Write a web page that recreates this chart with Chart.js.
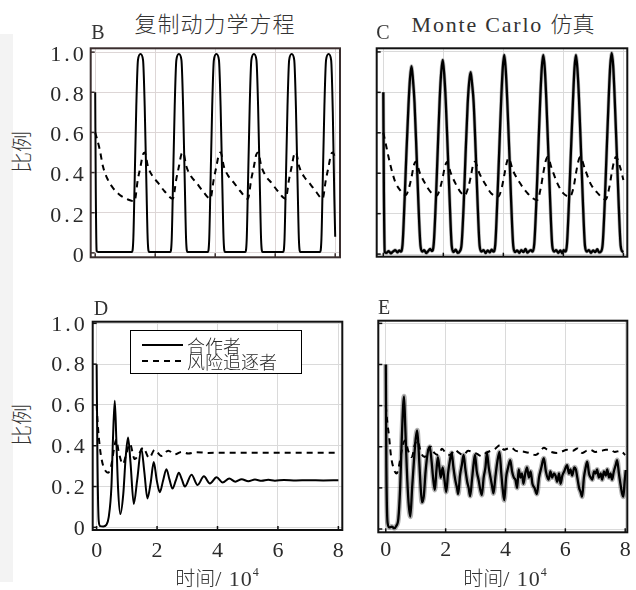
<!DOCTYPE html>
<html><head><meta charset="utf-8">
<script src="https://cdn.jsdelivr.net/npm/chart.js@4.4.0/dist/chart.umd.min.js"></script>
<style>
html,body{margin:0;padding:0;background:#fff;}
body{width:636px;height:590px;position:relative;overflow:hidden;}
canvas{position:absolute;}
.c{position:absolute;white-space:nowrap;line-height:1;color:#333;transform:translate(-50%,-50%);}
.cjk{font-family:"Noto Sans CJK SC",sans-serif;font-weight:300;}
.ser{font-family:"Liberation Serif",serif;}
#strip{position:absolute;left:0;top:34px;width:13px;height:548px;background:#f3f3f3;}
#legend{position:absolute;left:130px;top:330px;width:170px;height:42px;border:1px solid #000;background:#fff;}
#legend span{position:absolute;left:56px;font-size:18px;line-height:1;color:#2a2a2a;transform:translateY(-50%);font-family:"Noto Sans CJK SC",sans-serif;font-weight:300;}
</style></head><body>
<div id="strip"></div>
<canvas id="cB"></canvas><canvas id="cC"></canvas><canvas id="cD"></canvas><canvas id="cE"></canvas>
<div class="c cjk" style="left:215px;top:22px;font-size:22px;letter-spacing:1px;">复制动力学方程</div>
<div class="c ser" style="left:503px;top:23px;font-size:22px;letter-spacing:1.8px;">Monte Carlo <span class="cjk" style="letter-spacing:0">仿真</span></div>
<div class="c ser" style="left:98px;top:32px;font-size:20px;">B</div>
<div class="c ser" style="left:383px;top:32px;font-size:20px;">C</div>
<div class="c ser" style="left:101px;top:308px;font-size:20px;">D</div>
<div class="c ser" style="left:384px;top:307px;font-size:20px;">E</div>
<div class="c cjk" style="left:20px;top:152px;font-size:21px;transform:translate(-50%,-50%) rotate(-90deg);">比例</div>
<div class="c cjk" style="left:20px;top:425px;font-size:21px;transform:translate(-50%,-50%) rotate(-90deg);">比例</div>
<div class="c" style="left:217px;top:578px;"><span class="cjk" style="font-size:20px;">时间</span><span class="ser" style="font-size:22px;letter-spacing:1px;">/ 10</span><span class="ser" style="font-size:12px;vertical-align:10px;">4</span></div>
<div class="c" style="left:505px;top:578px;"><span class="cjk" style="font-size:20px;">时间</span><span class="ser" style="font-size:22px;letter-spacing:1px;">/ 10</span><span class="ser" style="font-size:12px;vertical-align:10px;">4</span></div>
<div id="legend">
<svg width="170" height="42" style="position:absolute;left:0;top:0">
<line x1="11" y1="14" x2="52" y2="14" stroke="#000" stroke-width="2"/>
<line x1="11" y1="30" x2="52" y2="30" stroke="#000" stroke-width="2" stroke-dasharray="6,5"/>
</svg>
<span style="top:14px;">合作者</span>
<span style="top:30px;">风险追逐者</span>
</div>
<script>
// ---------- data (x in units of 10^4) ----------
const xTicks = [0, 2, 4, 6, 8];
const xTickLabels = ['0', '2', '4', '6', '8'];
const yTicks = [0, 0.2, 0.4, 0.6, 0.8, 1.0];
const yTickLabels = ['0', '0.2', '0.4', '0.6', '0.8', '1.0'];

// B: replicator dynamics, cooperators
const bCoopX = [0,0.02,0.05,0.1,
1.22,1.27,1.31,1.37,1.425,1.51,1.595,1.65,1.71,1.75,1.80,
2.50,2.55,2.59,2.65,2.705,2.79,2.875,2.93,2.99,3.03,3.08,
3.75,3.80,3.84,3.90,3.955,4.04,4.125,4.18,4.24,4.28,4.33,
5.00,5.05,5.09,5.15,5.205,5.29,5.375,5.43,5.49,5.53,5.58,
6.26,6.31,6.35,6.41,6.465,6.55,6.635,6.69,6.75,6.79,6.84,
7.49,7.54,7.58,7.64,7.695,7.78,7.865,7.92,7.97,8.0];
const bCoopY = [0.8,0.3,0.01,0.004,
0.004,0.066,0.32,0.73,0.96,0.99,0.96,0.73,0.32,0.066,0.004,
0.004,0.066,0.32,0.73,0.96,0.99,0.96,0.73,0.32,0.066,0.004,
0.004,0.066,0.32,0.73,0.96,0.99,0.96,0.73,0.32,0.066,0.004,
0.004,0.066,0.32,0.73,0.96,0.99,0.96,0.73,0.32,0.066,0.004,
0.004,0.066,0.32,0.73,0.96,0.99,0.96,0.73,0.32,0.066,0.004,
0.004,0.066,0.32,0.73,0.96,0.99,0.96,0.70,0.28,0.08];
// B: risk seekers
const bRiskX = [0,0.15,0.26,0.42,0.59,0.81,1.09,
1.31,1.42,1.51,1.59,1.65,1.76,1.92,2.09,2.31,
2.59,2.70,2.79,2.87,2.93,3.04,3.20,3.37,3.59,
3.84,3.95,4.04,4.12,4.18,4.29,4.45,4.62,4.84,
5.09,5.20,5.29,5.37,5.43,5.54,5.70,5.87,6.09,
6.35,6.46,6.55,6.63,6.69,6.80,6.96,7.13,7.35,
7.58,7.69,7.78,7.86,7.92,8.0];
const bRiskY = [0.6,0.515,0.43,0.365,0.324,0.29,0.266,
0.257,0.365,0.43,0.49,0.50,0.43,0.38,0.35,0.307,
0.27,0.365,0.43,0.49,0.50,0.43,0.38,0.35,0.307,
0.27,0.365,0.43,0.49,0.50,0.43,0.38,0.35,0.307,
0.27,0.365,0.43,0.49,0.50,0.43,0.38,0.35,0.307,
0.27,0.365,0.43,0.49,0.50,0.43,0.38,0.35,0.307,
0.27,0.365,0.43,0.49,0.50,0.47];

// C: Monte Carlo, cooperators
const cCoopX = [0,0.02,0.05,0.1,0.18,0.25,0.32,0.4,0.47,0.53,
0.58,0.64,0.71,0.77,0.84,0.89,0.94,0.99,1.04,1.11,1.17,1.24,1.30,
1.36,1.43,1.5,1.56,
1.62,1.68,1.75,1.81,1.88,1.93,1.98,2.03,2.08,2.15,2.21,2.28,2.34,
2.41,2.48,
2.55,2.61,2.68,2.74,2.81,2.86,2.91,2.96,3.01,3.08,3.14,3.21,3.27,
3.34,3.41,3.48,3.55,3.61,
3.67,3.73,3.80,3.86,3.93,3.98,4.03,4.08,4.13,4.20,4.26,4.33,4.39,
4.46,4.53,4.6,4.67,4.74,4.8,4.87,4.92,
4.97,5.03,5.10,5.16,5.23,5.28,5.33,5.38,5.43,5.50,5.56,5.63,5.69,
5.76,5.83,5.9,5.96,6.01,
6.06,6.12,6.19,6.25,6.32,6.37,6.42,6.47,6.52,6.59,6.65,6.72,6.78,
6.85,6.92,6.99,7.06,7.13,7.19,
7.25,7.31,7.38,7.44,7.51,7.56,7.61,7.66,7.71,7.78,7.84,7.91,7.97,8.0];
const cCoopY = [0.8,0.3,0.01,0.006,0.015,0.004,0.012,0.02,0.008,0.018,
0.012,0.045,0.27,0.5,0.74,0.87,0.93,0.86,0.75,0.49,0.25,0.04,0.012,
0.02,0.005,0.015,0.025,
0.015,0.05,0.26,0.5,0.77,0.9,0.96,0.89,0.76,0.5,0.27,0.04,0.01,
0.022,0.006,
0.014,0.05,0.25,0.49,0.74,0.85,0.90,0.84,0.75,0.5,0.26,0.04,0.012,
0.02,0.005,0.018,0.008,0.022,
0.012,0.045,0.27,0.5,0.77,0.92,0.985,0.91,0.76,0.5,0.26,0.04,0.01,
0.018,0.006,0.02,0.01,0.025,0.007,0.016,0.02,
0.012,0.05,0.26,0.5,0.77,0.92,0.985,0.92,0.77,0.5,0.26,0.04,0.012,
0.02,0.006,0.018,0.004,0.02,
0.012,0.05,0.27,0.5,0.76,0.92,0.985,0.91,0.77,0.5,0.26,0.04,0.012,
0.02,0.006,0.018,0.01,0.024,0.008,
0.012,0.05,0.26,0.5,0.77,0.93,0.995,0.93,0.77,0.5,0.26,0.04,0.012,0.01];
// C: risk seekers
const cRiskX = [0,0.06,0.22,0.39,0.56,0.75,0.86,0.94,1.02,1.08,
1.22,1.39,1.56,1.78,1.90,1.98,2.05,2.12,
2.25,2.42,2.58,2.71,2.83,2.91,2.99,3.05,
3.2,3.4,3.6,3.83,3.95,4.03,4.11,4.17,
4.33,4.56,4.78,5.13,5.25,5.33,5.41,5.47,
5.62,5.8,6.0,6.22,6.34,6.42,6.5,6.56,
6.72,6.9,7.12,7.41,7.53,7.61,7.69,7.75,
7.89,8.0];
const cRiskY = [0.6,0.56,0.45,0.36,0.316,0.292,0.33,0.38,0.44,0.457,
0.40,0.35,0.31,0.29,0.33,0.38,0.43,0.455,
0.40,0.345,0.305,0.29,0.33,0.38,0.44,0.457,
0.40,0.345,0.30,0.285,0.33,0.39,0.45,0.474,
0.41,0.35,0.305,0.267,0.33,0.40,0.46,0.48,
0.42,0.35,0.30,0.285,0.33,0.40,0.46,0.48,
0.42,0.35,0.305,0.27,0.33,0.40,0.46,0.48,
0.43,0.366];

// D: replicator dynamics (damped), cooperators
const dCoopX = [0,0.03,0.07,0.12,0.22,0.32,0.4,0.49,0.54,0.6,
0.65,0.71,0.785,0.88,0.96,1.04,1.12,1.23,1.34,1.48,
1.58,1.68,1.79,1.89,1.99,2.09,2.2,2.31,2.41,2.51,
2.62,2.72,2.82,2.92,3.14,3.34,3.55,3.75,3.97,4.17,
4.39,4.59,4.8,5.02,5.24,5.46,5.68,5.9,6.2,6.6,
7.0,7.5,8.0];
const dCoopY = [0.8,0.3,0.03,0.006,0.004,0.012,0.05,0.2,0.43,0.62,
0.44,0.19,0.065,0.16,0.34,0.44,0.32,0.115,0.23,0.385,
0.27,0.142,0.22,0.32,0.23,0.172,0.23,0.285,0.235,0.19,
0.23,0.268,0.235,0.2,0.258,0.208,0.25,0.215,0.245,0.22,
0.239,0.224,0.236,0.226,0.234,0.228,0.233,0.229,0.232,0.23,
0.231,0.23,0.231];
// D: risk seekers
const dRiskX = [0,0.04,0.1,0.17,0.26,0.38,0.48,0.57,0.65,0.73,
0.87,0.98,1.1,1.26,1.4,1.54,1.74,1.92,2.14,2.37,
2.59,2.81,3.03,3.3,3.7,4.5,8.0];
const dRiskY = [0.6,0.5,0.4,0.33,0.285,0.268,0.3,0.38,0.43,0.37,
0.31,0.36,0.41,0.335,0.36,0.39,0.34,0.38,0.35,0.376,
0.358,0.37,0.362,0.368,0.365,0.366,0.366];

// E: Monte Carlo (damped), cooperators
const eCoopX = [0,0.02,0.06,0.12,0.2,0.28,0.35,0.42,0.48,0.53,
0.58,0.61,0.65,0.7,0.76,0.82,0.88,0.94,1.0,1.05,
1.1,1.15,1.21,1.27,1.33,1.4,1.47,1.53,1.58,1.64,
1.69,1.74,1.79,1.84,1.9,1.96,2.02,2.08,2.14,2.2,
2.26,2.32,2.38,2.42,2.48,2.54,2.6,2.66,2.72,2.77,
2.82,2.88,2.93,2.98,3.04,3.1,3.16,3.21,3.27,3.33,
3.38,3.44,3.5,3.55,3.6,3.66,3.72,3.8,3.86,3.91,
3.96,4.02,4.09,4.16,4.22,4.28,4.33,4.39,4.44,4.5,
4.55,4.6,4.66,4.72,4.78,4.84,4.9,4.97,5.05,5.12,
5.2,5.28,5.35,5.44,5.5,5.56,5.62,5.67,5.73,5.79,
5.84,5.9,5.96,6.06,6.12,6.17,6.23,6.3,6.35,6.4,
6.46,6.51,6.56,6.62,6.68,6.73,6.79,6.85,6.9,6.96,
7.01,7.06,7.12,7.18,7.23,7.29,7.35,7.4,7.46,7.51,
7.56,7.62,7.68,7.73,7.79,7.84,7.9,7.94,7.98,8.02];
const eCoopY = [0.8,0.3,0.03,0.008,0.012,0.004,0.015,0.05,0.2,0.42,
0.6,0.645,0.5,0.3,0.13,0.06,0.2,0.33,0.44,0.48,
0.38,0.24,0.13,0.16,0.28,0.37,0.40,0.33,0.25,0.19,
0.28,0.35,0.30,0.25,0.3,0.24,0.18,0.27,0.33,0.37,
0.30,0.24,0.2,0.17,0.26,0.31,0.36,0.29,0.23,0.2,
0.16,0.24,0.31,0.36,0.28,0.24,0.19,0.165,0.25,0.3,
0.37,0.3,0.25,0.21,0.173,0.25,0.32,0.375,0.27,0.19,
0.14,0.25,0.3,0.335,0.28,0.25,0.24,0.2,0.29,0.25,
0.27,0.22,0.27,0.3,0.25,0.28,0.22,0.2,0.17,0.25,
0.3,0.344,0.28,0.24,0.28,0.25,0.27,0.26,0.23,0.27,
0.22,0.26,0.28,0.31,0.27,0.29,0.26,0.3,0.29,0.25,
0.2,0.18,0.157,0.25,0.3,0.327,0.27,0.25,0.24,0.28,
0.27,0.29,0.25,0.27,0.24,0.28,0.26,0.29,0.25,0.27,
0.24,0.28,0.31,0.335,0.27,0.22,0.17,0.157,0.23,0.287];
// E: risk seekers
const eRiskX = [0,0.05,0.11,0.17,0.25,0.36,0.46,0.53,0.64,0.75,
0.87,0.97,1.05,1.18,1.3,1.4,1.5,1.62,1.75,1.88,
2.0,2.15,2.3,2.45,2.6,2.75,2.9,3.05,3.2,3.35,
3.5,3.65,3.82,3.95,4.05,4.2,4.35,4.5,4.65,4.8,
5.0,5.15,5.28,5.4,5.5,5.7,5.85,6.06,6.25,6.4,
6.56,6.7,6.84,7.0,7.2,7.35,7.5,7.65,7.84,8.0];
const eRiskY = [0.6,0.52,0.45,0.36,0.3,0.27,0.32,0.38,0.43,0.38,
0.35,0.41,0.43,0.37,0.35,0.38,0.40,0.37,0.36,0.39,
0.37,0.36,0.385,0.37,0.36,0.38,0.375,0.365,0.355,0.37,
0.38,0.39,0.408,0.385,0.39,0.395,0.38,0.378,0.375,0.37,
0.36,0.375,0.395,0.385,0.376,0.37,0.375,0.385,0.38,0.392,
0.37,0.38,0.385,0.375,0.38,0.385,0.385,0.375,0.38,0.36];

// ---------- drawing ----------
Chart.defaults.font.family = "'Liberation Serif', serif";
Chart.defaults.color = '#2a2a2a';

const framePlugin = {
  id: 'frame',
  beforeDraw(chart) { chart.ctx.letterSpacing = '3px'; },
  afterDatasetsDraw(chart, args, opts) {
    const {ctx, chartArea: a, scales} = chart;
    ctx.save();
    ctx.strokeStyle = opts.color || '#000';
    ctx.lineWidth = 1.5;
    scales.y.ticks.forEach(t => {
      const py = scales.y.getPixelForValue(t.value);
      ctx.beginPath(); ctx.moveTo(a.left, py); ctx.lineTo(a.left + 4, py); ctx.stroke();
    });
    scales.x.ticks.forEach(t => {
      const px = scales.x.getPixelForValue(t.value);
      ctx.beginPath(); ctx.moveTo(px, a.bottom); ctx.lineTo(px, a.bottom - 4); ctx.stroke();
    });
    ctx.lineWidth = 2;
    ctx.strokeRect(a.left, a.top, a.right - a.left, a.bottom - a.top);
    ctx.restore();
  }
};

function build(id, p) {
  const cv = document.getElementById(id);
  const a = p.area;
  const yW0 = p.yLab ? 50 : 6, xH0 = p.xLab ? 45 : 6;
  const cl = Math.floor(a.l - yW0), ct = Math.floor(a.t - 6);
  const yW = a.l - cl, padT = a.t - ct;
  const cw = Math.ceil(a.r - cl + 8), ch = Math.ceil(a.b - ct + xH0);
  const padR = cw - (a.r - cl), xH = ch - (a.b - ct);
  cv.width = cw; cv.height = ch;
  cv.style.left = cl + 'px'; cv.style.top = ct + 'px';
  cv.style.width = cw + 'px'; cv.style.height = ch + 'px';
  const datasets = [];
  p.series.forEach(([xs, ys, dashed]) => {
    const data = xs.map((x, i) => ({x: x, y: ys[i]}));
    const base = {data, pointRadius: 0, fill: false, cubicInterpolationMode: 'monotone'};
    if (p.noisy && !dashed) {
      datasets.push(Object.assign({}, base, {borderColor: 'rgba(0,0,0,0.3)', borderWidth: p.halo}));
    }
    datasets.push(Object.assign({}, base, {
      borderColor: '#000',
      borderWidth: dashed ? 2 : (p.noisy ? 2.3 : 2),
      borderDash: dashed ? [6, 5] : []
    }));
  });
  new Chart(cv, {
    type: 'line',
    data: {datasets},
    options: {
      responsive: false, animation: false, devicePixelRatio: 1,
      layout: {padding: {left: 0, top: padT, right: padR, bottom: 0}},
      plugins: {legend: {display: false}, tooltip: {enabled: false}, frame: {color: p.frame}},
      scales: {
        x: {
          type: 'linear', min: p.xr[0], max: p.xr[1],
          afterBuildTicks: s => { s.ticks = xTicks.map(v => ({value: v})); },
          afterFit: s => { s.height = xH; s.paddingLeft = 0; s.paddingRight = 0; },
          grid: {color: p.grid, lineWidth: 1, drawTicks: false},
          border: {display: false},
          ticks: {display: p.xLab, padding: p.xPad, font: {size: 22}, maxRotation: 0, labelOffset: 1.5,
                  callback: v => xTickLabels[xTicks.indexOf(v)]}
        },
        y: {
          type: 'linear', min: p.yr[0], max: p.yr[1],
          afterBuildTicks: s => { s.ticks = yTicks.map(v => ({value: v})); },
          afterFit: s => { s.width = yW; s.paddingTop = 0; s.paddingBottom = 0; },
          grid: {color: p.grid, lineWidth: 1, drawTicks: false},
          border: {display: false},
          ticks: {display: p.yLab, padding: p.yPad, font: {size: 22}, labelOffset: p.yOff,
                  callback: v => yTickLabels[yTicks.indexOf(v)]}
        }
      }
    },
    plugins: [framePlugin]
  });
}

build('cB', {area: {l: 90.7, t: 48.3, r: 340, b: 257.3}, xr: [-0.15, 8.16], yr: [-0.022, 1.019],
  yLab: true, xLab: false, yPad: 4, yOff: 3, xPad: 8, frame: '#3a2e2e', grid: '#ddd6d6', noisy: false,
  series: [[bRiskX, bRiskY, true], [bCoopX, bCoopY, false]]});
build('cC', {area: {l: 376.7, t: 48.3, r: 627.3, b: 256.7}, xr: [-0.22, 8.13], yr: [-0.013, 1.018],
  yLab: false, xLab: false, yPad: 0, yOff: 0, xPad: 8, frame: '#111', grid: '#dadada', noisy: true, halo: 3.6,
  series: [[cRiskX, cRiskY, true], [cCoopX, cCoopY, false]]});
build('cD', {area: {l: 92.7, t: 321.7, r: 342.3, b: 530}, xr: [-0.13, 8.13], yr: [-0.013, 1.008],
  yLab: true, xLab: true, yPad: 5, yOff: 1.5, xPad: 8, frame: '#111', grid: '#dadada', noisy: false,
  series: [[dRiskX, dRiskY, true], [dCoopX, dCoopY, false]]});
build('cE', {area: {l: 378.3, t: 320.7, r: 627.3, b: 532.3}, xr: [-0.25, 8.07], yr: [-0.016, 1.013],
  yLab: false, xLab: true, yPad: 0, yOff: 0, xPad: 5, frame: '#111', grid: '#dadada', noisy: true, halo: 5,
  series: [[eRiskX, eRiskY, true], [eCoopX, eCoopY, false]]});
</script>
</body></html>
